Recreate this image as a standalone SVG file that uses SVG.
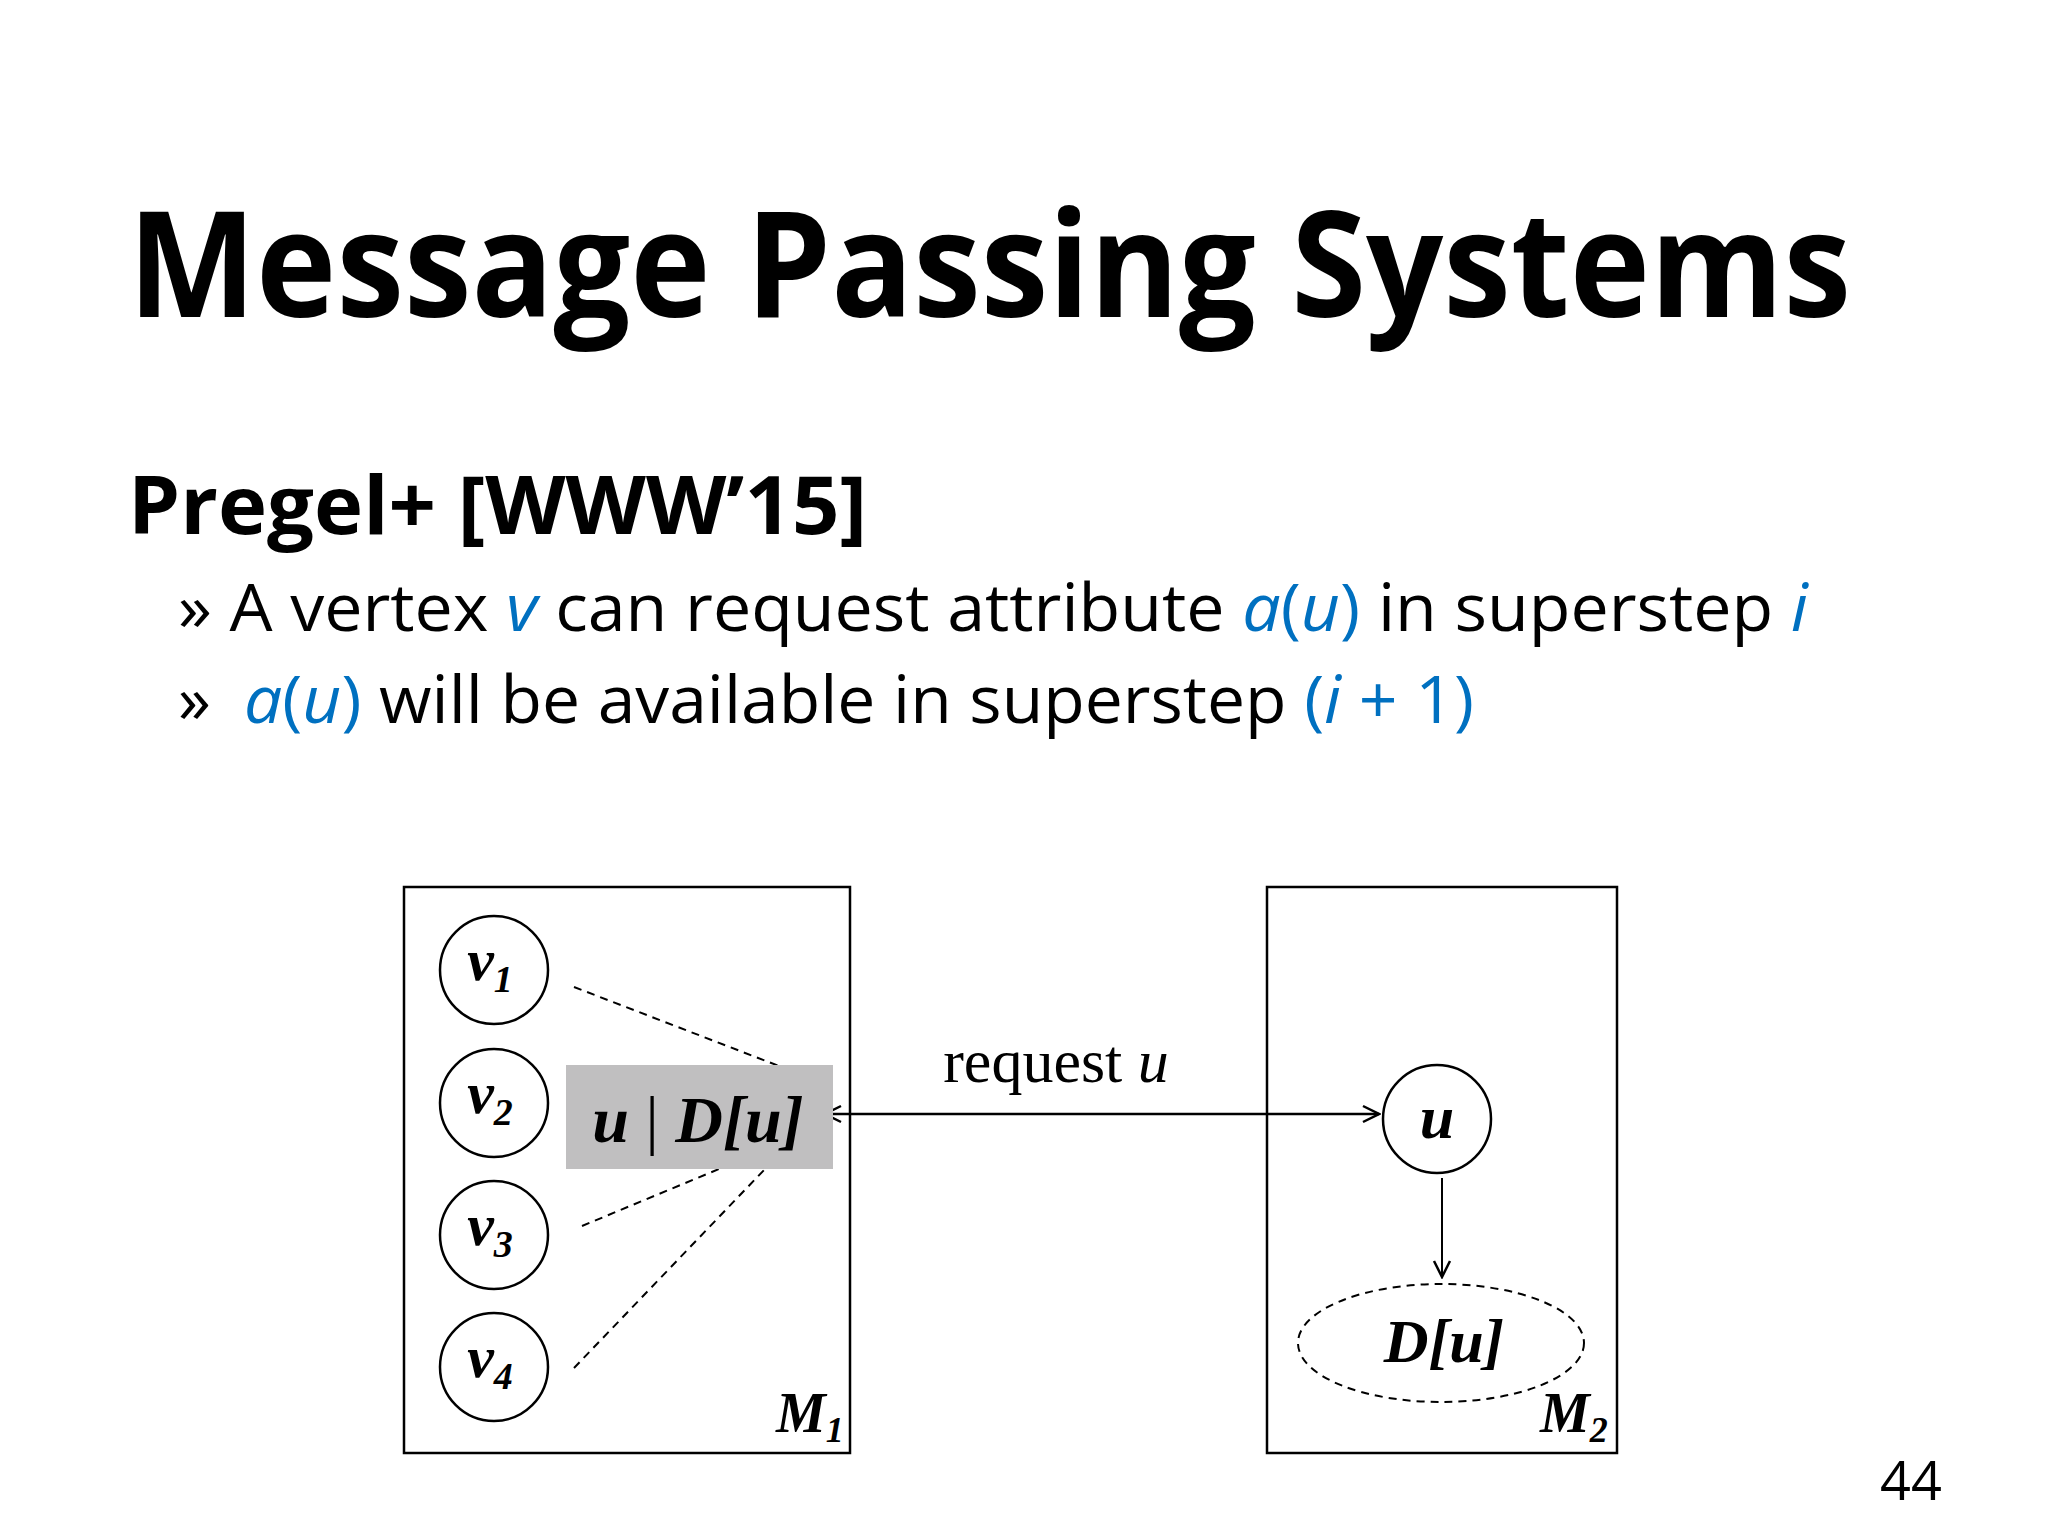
<svg xmlns="http://www.w3.org/2000/svg" width="2048" height="1536" viewBox="0 0 2048 1536">
<style>
.s{font-family:"Open Sans","Liberation Sans",sans-serif}
.b{fill:#0070c0;font-style:italic}
.m{font-family:"Liberation Serif",serif;font-style:italic;font-weight:bold}
.box{fill:none;stroke:#000;stroke-width:2.5}
.c{fill:#fff;stroke:#000;stroke-width:2.5}
.d{stroke:#000;stroke-width:2;stroke-dasharray:8 6;fill:none}
</style>
<defs>
<marker id="ah" viewBox="0 0 20 20" refX="18" refY="10" markerWidth="20" markerHeight="20" markerUnits="userSpaceOnUse" orient="auto-start-reverse"><path d="M2,2 L18,10 L2,18" fill="none" stroke="#000" stroke-width="2.5"/></marker>
</defs>
<rect width="2048" height="1536" fill="#fff"/>
<text class="s" x="128" y="317" font-size="148" font-weight="bold" textLength="1723" lengthAdjust="spacingAndGlyphs">Message Passing Systems</text>
<text class="s" x="128" y="534" font-size="80" font-weight="bold" textLength="739" lengthAdjust="spacingAndGlyphs">Pregel+ [WWW’15]</text>
<text class="s" x="178" y="631" font-size="66" textLength="1630" lengthAdjust="spacingAndGlyphs">» A vertex <tspan class="b">v</tspan> can request attribute <tspan fill="#0070c0"><tspan font-style="italic">a</tspan>(<tspan font-style="italic">u</tspan>)</tspan> in superstep <tspan class="b">i</tspan></text>
<text class="s" x="178" y="723" font-size="66">»</text>
<text class="s" x="244" y="723" font-size="66" textLength="1230" lengthAdjust="spacingAndGlyphs"><tspan fill="#0070c0"><tspan font-style="italic">a</tspan>(<tspan font-style="italic">u</tspan>)</tspan> will be available in superstep <tspan fill="#0070c0">(<tspan font-style="italic">i</tspan> + 1)</tspan></text>
<text class="s" x="1880" y="1500" font-size="54">44</text>

<g id="M1"><rect class="box" x="404" y="887" width="446" height="566"/><text class="m" x="776" y="1432" font-size="56">M<tspan font-size="36" dy="10">1</tspan></text></g>
<g id="M2"><rect class="box" x="1267" y="887" width="350" height="566"/><text class="m" x="1540" y="1432" font-size="56">M<tspan font-size="36" dy="10">2</tspan></text></g>

<g id="connectors">
<line class="d" x1="574" y1="987" x2="779" y2="1066"/>
<line class="d" x1="582" y1="1226" x2="719" y2="1169"/>
<line class="d" x1="574" y1="1368" x2="765" y2="1169"/>
<line x1="825" y1="1114" x2="1379" y2="1114" stroke="#000" stroke-width="2.5" marker-start="url(#ah)" marker-end="url(#ah)"/>
<line x1="1442" y1="1178" x2="1442" y2="1277" stroke="#000" stroke-width="2" marker-end="url(#ah)"/>
<text x="1056" y="1082" font-family="Liberation Serif,serif" font-size="62" text-anchor="middle">request <tspan font-style="italic">u</tspan></text>
</g>

<g id="v1"><circle class="c" cx="494" cy="970" r="54"/><text class="m" x="490" y="980" font-size="60" text-anchor="middle">v<tspan font-size="38" dy="12">1</tspan></text></g>
<g id="v2"><circle class="c" cx="494" cy="1103" r="54"/><text class="m" x="490" y="1113" font-size="60" text-anchor="middle">v<tspan font-size="38" dy="12">2</tspan></text></g>
<g id="v3"><circle class="c" cx="494" cy="1235" r="54"/><text class="m" x="490" y="1245" font-size="60" text-anchor="middle">v<tspan font-size="38" dy="12">3</tspan></text></g>
<g id="v4"><circle class="c" cx="494" cy="1367" r="54"/><text class="m" x="490" y="1377" font-size="60" text-anchor="middle">v<tspan font-size="38" dy="12">4</tspan></text></g>
<g id="cache"><rect x="566" y="1065" width="267" height="104" fill="#c0bfc0"/><text class="m" x="698" y="1142" font-size="66" text-anchor="middle">u <tspan font-style="normal" font-weight="normal">|</tspan> D[u]</text></g>
<g id="u"><circle class="c" cx="1437" cy="1119" r="54"/><text class="m" x="1437" y="1138" font-size="62" text-anchor="middle">u</text></g>
<g id="Du"><ellipse class="d" cx="1441" cy="1343" rx="143" ry="59"/><text class="m" x="1444" y="1362" font-size="62" text-anchor="middle">D[u]</text></g>
</svg>
